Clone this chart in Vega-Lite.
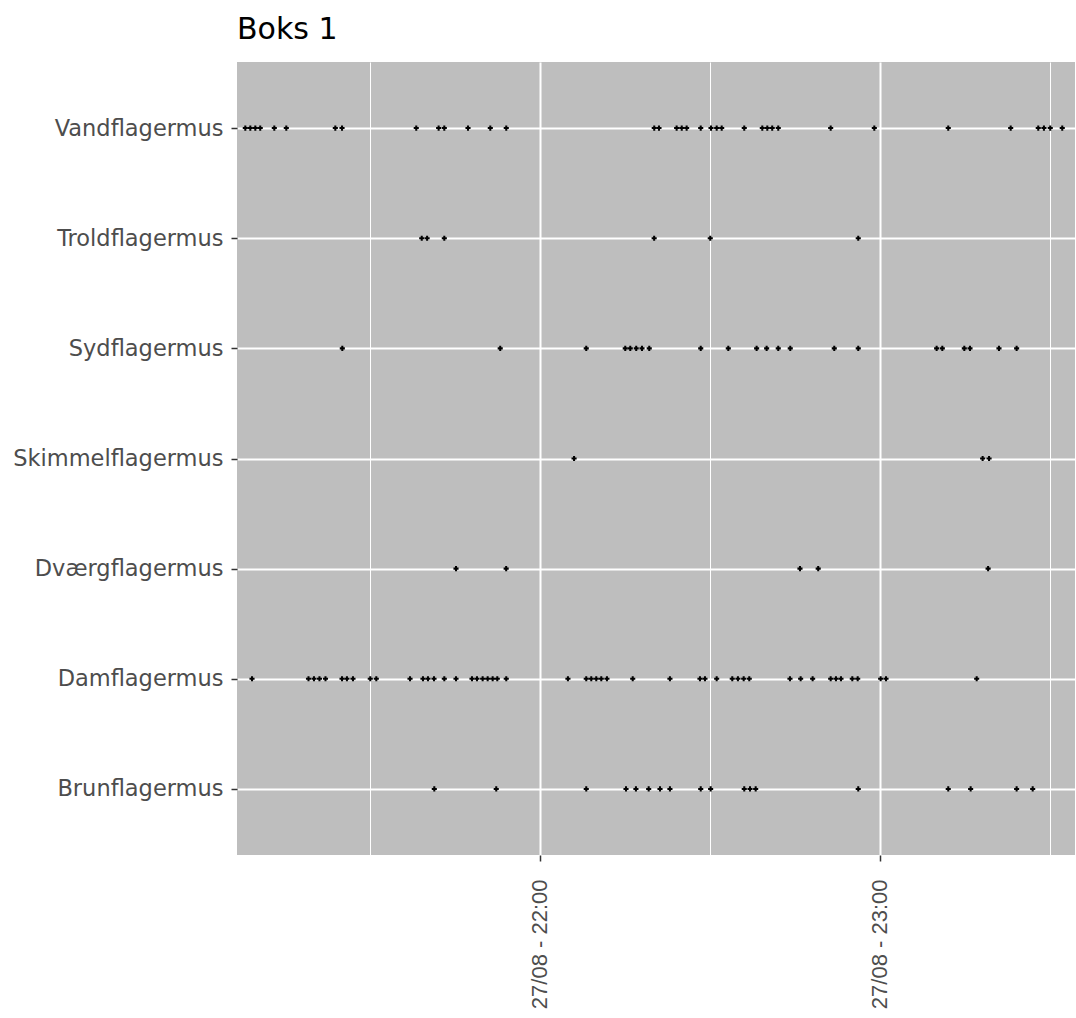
{
  "$schema": "https://vega.github.io/schema/vega-lite/v6.json",
  "width": 838,
  "height": 793,
  "autosize": "none",
  "padding": {"left": 237, "top": 62, "right": 1, "bottom": 163},
  "title": {"text": "Boks 1", "anchor": "start", "frame": "group", "fontSize": 30, "font": "DejaVu Sans", "fontWeight": "normal", "color": "#000000", "offset": 17},
  "config": {"view": {"fill": "#BEBEBE", "stroke": null}},
  "data": {"values": [
    {"art": "Vandflagermus", "tid": "2021-08-27T21:08:00Z"},
    {"art": "Vandflagermus", "tid": "2021-08-27T21:08:53Z"},
    {"art": "Vandflagermus", "tid": "2021-08-27T21:09:46Z"},
    {"art": "Vandflagermus", "tid": "2021-08-27T21:10:38Z"},
    {"art": "Vandflagermus", "tid": "2021-08-27T21:13:07Z"},
    {"art": "Vandflagermus", "tid": "2021-08-27T21:15:14Z"},
    {"art": "Vandflagermus", "tid": "2021-08-27T21:23:53Z"},
    {"art": "Vandflagermus", "tid": "2021-08-27T21:25:04Z"},
    {"art": "Vandflagermus", "tid": "2021-08-27T21:38:10Z"},
    {"art": "Vandflagermus", "tid": "2021-08-27T21:42:07Z"},
    {"art": "Vandflagermus", "tid": "2021-08-27T21:43:07Z"},
    {"art": "Vandflagermus", "tid": "2021-08-27T21:47:18Z"},
    {"art": "Vandflagermus", "tid": "2021-08-27T21:51:14Z"},
    {"art": "Vandflagermus", "tid": "2021-08-27T21:54:03Z"},
    {"art": "Vandflagermus", "tid": "2021-08-27T22:20:10Z"},
    {"art": "Vandflagermus", "tid": "2021-08-27T22:21:00Z"},
    {"art": "Vandflagermus", "tid": "2021-08-27T22:24:07Z"},
    {"art": "Vandflagermus", "tid": "2021-08-27T22:25:01Z"},
    {"art": "Vandflagermus", "tid": "2021-08-27T22:25:53Z"},
    {"art": "Vandflagermus", "tid": "2021-08-27T22:28:22Z"},
    {"art": "Vandflagermus", "tid": "2021-08-27T22:30:11Z"},
    {"art": "Vandflagermus", "tid": "2021-08-27T22:31:11Z"},
    {"art": "Vandflagermus", "tid": "2021-08-27T22:32:04Z"},
    {"art": "Vandflagermus", "tid": "2021-08-27T22:36:03Z"},
    {"art": "Vandflagermus", "tid": "2021-08-27T22:39:14Z"},
    {"art": "Vandflagermus", "tid": "2021-08-27T22:40:07Z"},
    {"art": "Vandflagermus", "tid": "2021-08-27T22:40:59Z"},
    {"art": "Vandflagermus", "tid": "2021-08-27T22:42:03Z"},
    {"art": "Vandflagermus", "tid": "2021-08-27T22:51:18Z"},
    {"art": "Vandflagermus", "tid": "2021-08-27T22:59:00Z"},
    {"art": "Vandflagermus", "tid": "2021-08-27T23:12:03Z"},
    {"art": "Vandflagermus", "tid": "2021-08-27T23:23:04Z"},
    {"art": "Vandflagermus", "tid": "2021-08-27T23:27:56Z"},
    {"art": "Vandflagermus", "tid": "2021-08-27T23:28:56Z"},
    {"art": "Vandflagermus", "tid": "2021-08-27T23:30:03Z"},
    {"art": "Vandflagermus", "tid": "2021-08-27T23:32:10Z"},
    {"art": "Troldflagermus", "tid": "2021-08-27T21:39:08Z"},
    {"art": "Troldflagermus", "tid": "2021-08-27T21:40:05Z"},
    {"art": "Troldflagermus", "tid": "2021-08-27T21:43:07Z"},
    {"art": "Troldflagermus", "tid": "2021-08-27T22:20:09Z"},
    {"art": "Troldflagermus", "tid": "2021-08-27T22:30:03Z"},
    {"art": "Troldflagermus", "tid": "2021-08-27T22:56:10Z"},
    {"art": "Sydflagermus", "tid": "2021-08-27T21:25:07Z"},
    {"art": "Sydflagermus", "tid": "2021-08-27T21:52:59Z"},
    {"art": "Sydflagermus", "tid": "2021-08-27T22:08:10Z"},
    {"art": "Sydflagermus", "tid": "2021-08-27T22:15:03Z"},
    {"art": "Sydflagermus", "tid": "2021-08-27T22:15:56Z"},
    {"art": "Sydflagermus", "tid": "2021-08-27T22:16:59Z"},
    {"art": "Sydflagermus", "tid": "2021-08-27T22:18:00Z"},
    {"art": "Sydflagermus", "tid": "2021-08-27T22:19:17Z"},
    {"art": "Sydflagermus", "tid": "2021-08-27T22:28:22Z"},
    {"art": "Sydflagermus", "tid": "2021-08-27T22:33:14Z"},
    {"art": "Sydflagermus", "tid": "2021-08-27T22:38:14Z"},
    {"art": "Sydflagermus", "tid": "2021-08-27T22:40:00Z"},
    {"art": "Sydflagermus", "tid": "2021-08-27T22:42:03Z"},
    {"art": "Sydflagermus", "tid": "2021-08-27T22:44:10Z"},
    {"art": "Sydflagermus", "tid": "2021-08-27T22:51:56Z"},
    {"art": "Sydflagermus", "tid": "2021-08-27T22:56:10Z"},
    {"art": "Sydflagermus", "tid": "2021-08-27T23:10:00Z"},
    {"art": "Sydflagermus", "tid": "2021-08-27T23:11:00Z"},
    {"art": "Sydflagermus", "tid": "2021-08-27T23:14:53Z"},
    {"art": "Sydflagermus", "tid": "2021-08-27T23:15:53Z"},
    {"art": "Sydflagermus", "tid": "2021-08-27T23:21:00Z"},
    {"art": "Sydflagermus", "tid": "2021-08-27T23:24:07Z"},
    {"art": "Skimmelflagermus", "tid": "2021-08-27T22:06:01Z"},
    {"art": "Skimmelflagermus", "tid": "2021-08-27T23:18:07Z"},
    {"art": "Skimmelflagermus", "tid": "2021-08-27T23:19:15Z"},
    {"art": "Dværgflagermus", "tid": "2021-08-27T21:45:11Z"},
    {"art": "Dværgflagermus", "tid": "2021-08-27T21:54:02Z"},
    {"art": "Dværgflagermus", "tid": "2021-08-27T22:45:53Z"},
    {"art": "Dværgflagermus", "tid": "2021-08-27T22:49:06Z"},
    {"art": "Dværgflagermus", "tid": "2021-08-27T23:19:05Z"},
    {"art": "Damflagermus", "tid": "2021-08-27T21:09:11Z"},
    {"art": "Damflagermus", "tid": "2021-08-27T21:19:09Z"},
    {"art": "Damflagermus", "tid": "2021-08-27T21:20:07Z"},
    {"art": "Damflagermus", "tid": "2021-08-27T21:21:05Z"},
    {"art": "Damflagermus", "tid": "2021-08-27T21:22:09Z"},
    {"art": "Damflagermus", "tid": "2021-08-27T21:25:04Z"},
    {"art": "Damflagermus", "tid": "2021-08-27T21:25:56Z"},
    {"art": "Damflagermus", "tid": "2021-08-27T21:27:00Z"},
    {"art": "Damflagermus", "tid": "2021-08-27T21:30:03Z"},
    {"art": "Damflagermus", "tid": "2021-08-27T21:31:07Z"},
    {"art": "Damflagermus", "tid": "2021-08-27T21:37:04Z"},
    {"art": "Damflagermus", "tid": "2021-08-27T21:39:21Z"},
    {"art": "Damflagermus", "tid": "2021-08-27T21:40:14Z"},
    {"art": "Damflagermus", "tid": "2021-08-27T21:41:18Z"},
    {"art": "Damflagermus", "tid": "2021-08-27T21:43:07Z"},
    {"art": "Damflagermus", "tid": "2021-08-27T21:45:11Z"},
    {"art": "Damflagermus", "tid": "2021-08-27T21:48:00Z"},
    {"art": "Damflagermus", "tid": "2021-08-27T21:48:53Z"},
    {"art": "Damflagermus", "tid": "2021-08-27T21:49:53Z"},
    {"art": "Damflagermus", "tid": "2021-08-27T21:50:46Z"},
    {"art": "Damflagermus", "tid": "2021-08-27T21:51:39Z"},
    {"art": "Damflagermus", "tid": "2021-08-27T21:52:28Z"},
    {"art": "Damflagermus", "tid": "2021-08-27T21:54:03Z"},
    {"art": "Damflagermus", "tid": "2021-08-27T22:04:56Z"},
    {"art": "Damflagermus", "tid": "2021-08-27T22:08:10Z"},
    {"art": "Damflagermus", "tid": "2021-08-27T22:09:03Z"},
    {"art": "Damflagermus", "tid": "2021-08-27T22:09:56Z"},
    {"art": "Damflagermus", "tid": "2021-08-27T22:10:49Z"},
    {"art": "Damflagermus", "tid": "2021-08-27T22:11:49Z"},
    {"art": "Damflagermus", "tid": "2021-08-27T22:16:22Z"},
    {"art": "Damflagermus", "tid": "2021-08-27T22:22:56Z"},
    {"art": "Damflagermus", "tid": "2021-08-27T22:28:14Z"},
    {"art": "Damflagermus", "tid": "2021-08-27T22:29:07Z"},
    {"art": "Damflagermus", "tid": "2021-08-27T22:31:11Z"},
    {"art": "Damflagermus", "tid": "2021-08-27T22:33:56Z"},
    {"art": "Damflagermus", "tid": "2021-08-27T22:34:56Z"},
    {"art": "Damflagermus", "tid": "2021-08-27T22:35:57Z"},
    {"art": "Damflagermus", "tid": "2021-08-27T22:36:56Z"},
    {"art": "Damflagermus", "tid": "2021-08-27T22:44:07Z"},
    {"art": "Damflagermus", "tid": "2021-08-27T22:46:00Z"},
    {"art": "Damflagermus", "tid": "2021-08-27T22:48:07Z"},
    {"art": "Damflagermus", "tid": "2021-08-27T22:51:18Z"},
    {"art": "Damflagermus", "tid": "2021-08-27T22:52:14Z"},
    {"art": "Damflagermus", "tid": "2021-08-27T22:53:07Z"},
    {"art": "Damflagermus", "tid": "2021-08-27T22:55:07Z"},
    {"art": "Damflagermus", "tid": "2021-08-27T22:56:04Z"},
    {"art": "Damflagermus", "tid": "2021-08-27T23:00:07Z"},
    {"art": "Damflagermus", "tid": "2021-08-27T23:01:04Z"},
    {"art": "Damflagermus", "tid": "2021-08-27T23:17:04Z"},
    {"art": "Brunflagermus", "tid": "2021-08-27T21:41:21Z"},
    {"art": "Brunflagermus", "tid": "2021-08-27T21:52:17Z"},
    {"art": "Brunflagermus", "tid": "2021-08-27T22:08:10Z"},
    {"art": "Brunflagermus", "tid": "2021-08-27T22:15:11Z"},
    {"art": "Brunflagermus", "tid": "2021-08-27T22:16:56Z"},
    {"art": "Brunflagermus", "tid": "2021-08-27T22:19:11Z"},
    {"art": "Brunflagermus", "tid": "2021-08-27T22:21:11Z"},
    {"art": "Brunflagermus", "tid": "2021-08-27T22:22:56Z"},
    {"art": "Brunflagermus", "tid": "2021-08-27T22:28:22Z"},
    {"art": "Brunflagermus", "tid": "2021-08-27T22:30:07Z"},
    {"art": "Brunflagermus", "tid": "2021-08-27T22:36:03Z"},
    {"art": "Brunflagermus", "tid": "2021-08-27T22:37:04Z"},
    {"art": "Brunflagermus", "tid": "2021-08-27T22:38:04Z"},
    {"art": "Brunflagermus", "tid": "2021-08-27T22:56:10Z"},
    {"art": "Brunflagermus", "tid": "2021-08-27T23:12:03Z"},
    {"art": "Brunflagermus", "tid": "2021-08-27T23:16:00Z"},
    {"art": "Brunflagermus", "tid": "2021-08-27T23:24:07Z"},
    {"art": "Brunflagermus", "tid": "2021-08-27T23:26:57Z"}
  ]},
  "mark": {"type": "point", "shape": "cross", "filled": true, "color": "#000000", "opacity": 1, "size": 26},
  "encoding": {
    "x": {
      "field": "tid",
      "type": "temporal",
      "title": null,
      "scale": {"type": "utc", "domain": ["2021-08-27T21:06:32Z", "2021-08-27T23:34:25Z"], "nice": false},
      "axis": {
        "values": ["2021-08-27T21:30:00Z", "2021-08-27T22:00:00Z", "2021-08-27T22:30:00Z", "2021-08-27T23:00:00Z", "2021-08-27T23:30:00Z"],
        "labelExpr": "utcminutes(datum.value) == 30 ? '' : utcFormat(datum.value, '%d/%m - %H:%M')",
        "labelAngle": 270,
        "labelFont": "Liberation Sans",
        "labelFontSize": 22,
        "labelColor": "#4D4D4D",
        "labelPadding": 18,
        "labelLimit": 0,
        "domain": false,
        "grid": true,
        "gridColor": "#FFFFFF",
        "gridOpacity": 1,
        "gridWidth": {"condition": {"test": "utcminutes(datum.value) == 30", "value": 1}, "value": 2},
        "tickColor": "#333333",
        "tickWidth": 1.5,
        "tickSize": {"condition": {"test": "utcminutes(datum.value) == 30", "value": 0}, "value": 6},
        "tickOpacity": {"condition": {"test": "utcminutes(datum.value) == 30", "value": 0}, "value": 1}
      }
    },
    "y": {
      "field": "art",
      "type": "nominal",
      "title": null,
      "sort": ["Vandflagermus", "Troldflagermus", "Sydflagermus", "Skimmelflagermus", "Dværgflagermus", "Damflagermus", "Brunflagermus"],
      "scale": {"type": "point", "padding": 0.6},
      "axis": {
        "labelFont": "DejaVu Sans",
        "labelFontSize": 22.5,
        "labelColor": "#4D4D4D",
        "labelPadding": 8,
        "labelLimit": 0,
        "domain": false,
        "grid": true,
        "gridColor": "#FFFFFF",
        "gridWidth": 2,
        "gridOpacity": 1,
        "tickColor": "#333333",
        "tickWidth": 1.5,
        "tickSize": 6
      }
    }
  }
}
